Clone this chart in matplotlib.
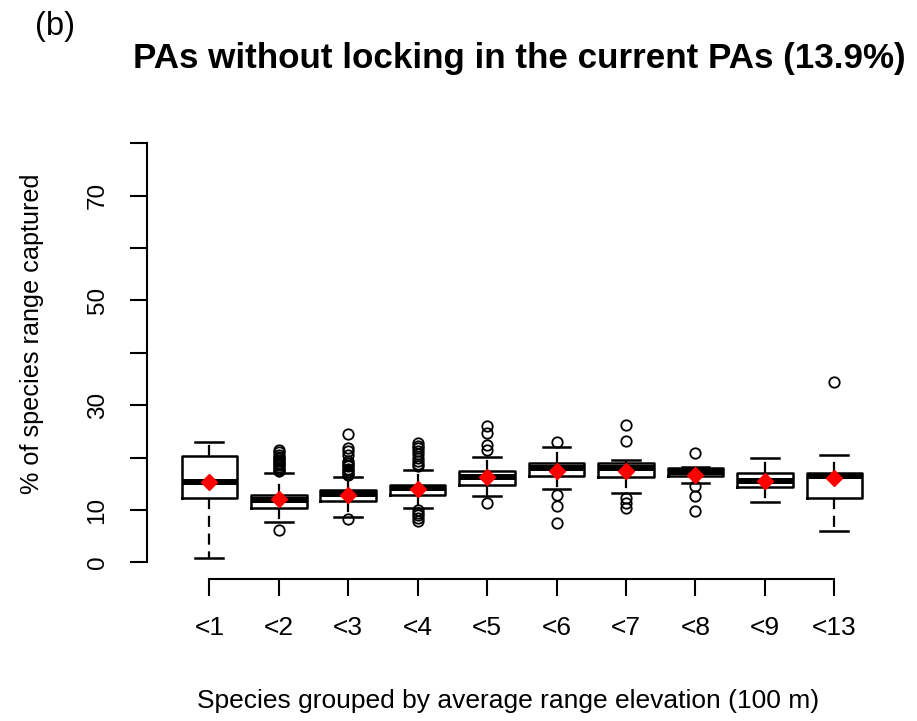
import matplotlib
matplotlib.use('Agg')
import matplotlib.pyplot as plt

plt.rcParams['font.family'] = ['Liberation Sans', 'DejaVu Sans']

# groupes d'altitude et statistiques
groups = ['<1', '<2', '<3', '<4', '<5', '<6', '<7', '<8', '<9', '<13']
whislo = [0.8, 7.7, 8.6, 10.4, 12.6, 14.0, 13.3, 15.2, 11.5, 6.0]
q1 = [12.2, 10.4, 11.8, 12.8, 14.8, 16.5, 16.2, 16.4, 14.4, 12.3]
med = [15.3, 11.9, 13.0, 14.1, 16.2, 18.0, 18.0, 17.3, 15.6, 16.4]
q3 = [20.3, 12.9, 13.8, 14.8, 17.4, 19.0, 19.0, 18.0, 17.0, 17.1]
whishi = [22.9, 17.1, 16.3, 17.7, 20.2, 22.1, 19.5, 18.2, 19.9, 20.5]
means = [15.4, 12.0, 12.9, 14.0, 16.2, 17.5, 17.5, 16.7, 15.6, 16.1]
fliers = [
    [],
    [6.1, 17.4, 17.7, 17.9, 18.2, 18.5, 18.8, 19.0, 19.3, 19.6, 19.9, 20.2, 20.5, 21.0, 21.5],
    [8.3, 16.6, 16.9, 17.2, 17.6, 17.9, 18.3, 18.6, 18.9, 19.3, 20.5, 21.2, 21.8, 24.5],
    [7.9, 8.4, 9.0, 9.5, 10.0, 18.3, 18.8, 19.4, 20.0, 20.6, 21.2, 21.8, 22.3, 22.8],
    [11.3, 21.5, 22.4, 24.7, 26.0],
    [7.5, 10.8, 12.9, 22.9],
    [10.4, 11.4, 12.3, 23.1, 26.2],
    [9.8, 12.7, 14.6, 20.9],
    [],
    [34.4],
]

stats = []
for i, g in enumerate(groups):
    stats.append({'label': g, 'whislo': whislo[i], 'q1': q1[i], 'med': med[i],
                  'q3': q3[i], 'whishi': whishi[i], 'fliers': fliers[i]})

fig = plt.figure(figsize=(9.17, 7.21), dpi=100)
ax = fig.add_axes([0.1601, 0.1968, 0.8179, 0.6278])

pos = list(range(1, len(groups) + 1))
ax.bxp(stats, positions=pos, widths=0.8, capwidths=0.4,
       boxprops=dict(color='black', linewidth=1.8),
       medianprops=dict(color='black', linewidth=4.3, solid_capstyle='butt'),
       whiskerprops=dict(color='black', linewidth=1.6, linestyle=(0, (5, 3))),
       capprops=dict(color='black', linewidth=1.8),
       flierprops=dict(marker='o', markerfacecolor='none', markeredgecolor='black',
                       markersize=7.5, markeredgewidth=1.3))
ax.plot(pos, means, linestyle='none', marker='D', color='red', markersize=8, zorder=5)

ax.set_xlim(0.1, 10.9)
ax.set_ylim(-3.2, 83.2)

for s in ['top', 'right']:
    ax.spines[s].set_visible(False)
ax.spines['left'].set_bounds(0, 80)
ax.spines['bottom'].set_bounds(1, 10)
ax.spines['left'].set_linewidth(1.5)
ax.spines['bottom'].set_linewidth(1.5)

ax.set_yticks(range(0, 81, 10))
ax.set_yticklabels(['0', '10', '', '30', '', '50', '', '70', ''])
ax.set_xticks(pos)
ax.set_xticklabels(groups)
ax.tick_params(axis='both', length=12.5, width=1.5)
ax.tick_params(axis='x', pad=14, labelsize=19)
ax.tick_params(axis='y', pad=15, labelrotation=90, labelsize=17.5)
for t in ax.get_yticklabels():
    t.set_va('center')

fig.text(0.035, 0.5368, '% of species range captured', rotation=90,
         ha='center', va='center', fontsize=18.2)
fig.text(0.554, 0.0176, 'Species grouped by average range elevation (100 m)',
         ha='center', va='baseline', fontsize=19)
fig.text(0.566, 0.9053, 'PAs without locking in the current PAs (13.9%)',
         ha='center', va='baseline', fontsize=25.2, fontweight='bold')
fig.text(0.038, 0.9515, '(b)', ha='left', va='baseline', fontsize=23.5)

fig.savefig('out.png', dpi=100)
